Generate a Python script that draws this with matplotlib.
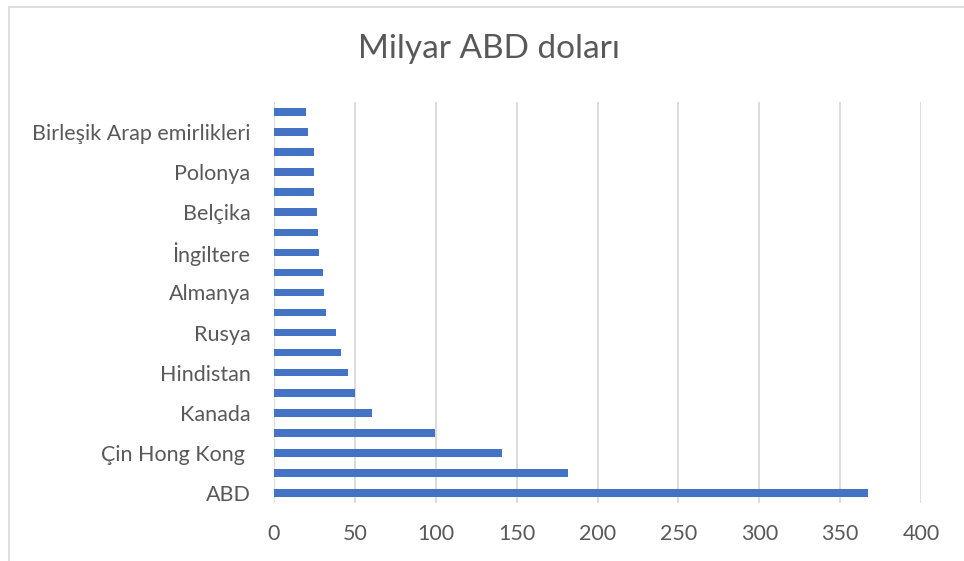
import matplotlib.pyplot as plt
from matplotlib.patches import Rectangle

# bottom to top, every other category has no visible label
countries = ["ABD", "", "Çin Hong Kong ", "", "Kanada", "", "Hindistan", "",
             "Rusya", "", "Almanya", "", "İngiltere", "", "Belçika", "",
             "Polonya", "", "Birleşik Arap emirlikleri", ""]
values = [367, 181.5, 141, 99.6, 60.7, 50.2, 45.5, 41.5, 38.4, 32.0,
          31.2, 30.4, 28.1, 27.5, 26.7, 24.8, 24.8, 24.8, 21.1, 20.0]
xticks = [0, 50, 100, 150, 200, 250, 300, 350, 400]

plt.rcParams['font.family'] = ['Lato', 'DejaVu Sans']
grey = "#595959"

fig = plt.figure(figsize=(9.64, 5.61), dpi=100)
# chart frame
fig.patches.append(Rectangle((9 / 964, -0.1), 1.2, 1.1 - 7 / 561,
                             transform=fig.transFigure, fill=False,
                             edgecolor="#d9d9d9", linewidth=1.2))

ax = fig.add_axes([274 / 964, 58 / 561, 647 / 964, 401 / 561])
pos = list(range(len(values)))
ax.barh(pos, values, height=0.38, color="#4472C4", zorder=3)

ax.set_xlim(0, 400)
ax.set_ylim(-0.5, len(values) - 0.5)
ax.set_xticks(xticks)
ax.set_yticks(pos)
ax.set_yticklabels(countries)
ax.grid(axis="x", color="#d9d9d9", linewidth=1.3, zorder=0)
ax.tick_params(axis="both", length=0, colors=grey, labelsize=15.5)
ax.tick_params(axis="y", pad=17)
ax.tick_params(axis="x", pad=15)
for s in ax.spines.values():
    s.set_visible(False)

fig.text(489 / 964, 1 - 49 / 561, "Milyar ABD doları", ha="center",
         va="center", fontsize=24, color=grey)

fig.savefig("out.png", dpi=100)
